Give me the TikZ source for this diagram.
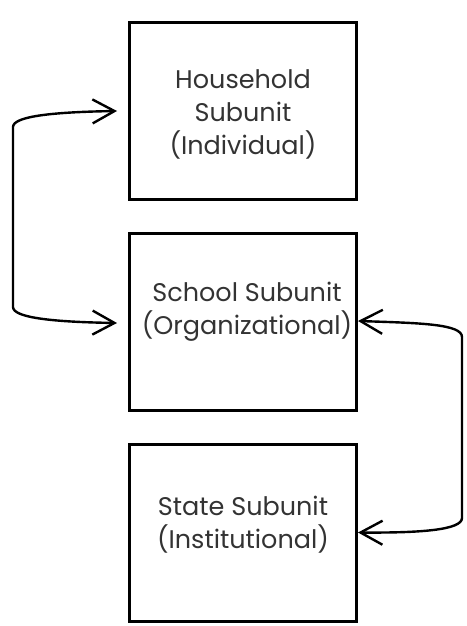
\documentclass[tikz,border=0pt]{standalone}
\usepackage{fontspec}
\setmainfont{Poppins}
\usetikzlibrary{arrows.meta}
\definecolor{inkgray}{HTML}{333333}
\begin{document}
\begin{tikzpicture}[x=1pt,y=-1pt,
  subunit/.style={draw=black, line width=3pt, rectangle,
    minimum width=227pt, minimum height=177pt, inner sep=0pt},
  boxtext/.style={text=inkgray, font=\fontsize{25.5}{33}\selectfont, align=center},
  link/.style={line width=2.4pt, black,
    {Straight Barb[length=22pt,width=24pt,line width=2.4pt]}-{Straight Barb[length=22pt,width=24pt,line width=2.4pt]}}]
  \useasboundingbox (0,0) rectangle (466,626);

  % the three subunit boxes
  \node[subunit] (household) at (243,111) {};
  \node[subunit] (school)    at (243,321.5) {};
  \node[subunit] (state)     at (243,532.5) {};

  \node[boxtext] at ([yshift=-3pt]household.center) {Household\\Subunit\\(Individual)};
  \node[boxtext] at ([xshift=4pt,yshift=10pt]school.center) {School Subunit\\(Organizational)};
  \node[boxtext] at ([yshift=8pt]state.center) {State Subunit\\(Institutional)};

  % free ends of the left loop
  \coordinate (hin) at ([xshift=-11pt]household.west);
  \coordinate (sin) at ([xshift=-11pt,yshift=-1.5pt]school.west);

  % household <-> school, around the left side
  \draw[link] (hin) .. controls (55,112) and (13,116) .. (13,127)
    -- (13,307) .. controls (13,318) and (55,322) .. (sin);

  % school <-> state, around the right side
  \draw[link] ([yshift=0.5pt]school.east) .. controls (420,323) and (462,324) .. (462,337)
    -- (462,518) .. controls (462,530) and (420,533) .. (state.east);
\end{tikzpicture}
\end{document}
